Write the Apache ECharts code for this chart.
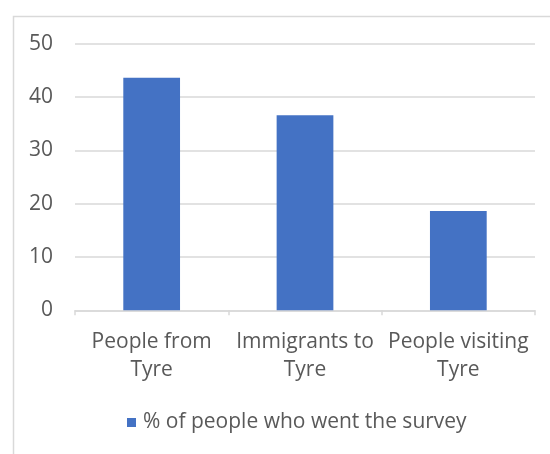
<!DOCTYPE html>
<html>
<head>
<meta charset="utf-8">
<script src="https://cdn.jsdelivr.net/npm/echarts@6/dist/echarts.min.js"></script>
<style>
  html, body { margin: 0; padding: 0; background: #ffffff; }
  #chart { width: 550px; height: 454px; }
</style>
</head>
<body>
<div id="chart"></div>
<script>
// Survey respondents by group
const categories = ['People from Tyre', 'Immigrants to Tyre', 'People visiting Tyre'];
const seriesName = '% of people who went the survey';
const values = [43.6, 36.6, 18.6];
const yTicks = { min: 0, max: 50, interval: 10 };

const FONT = '"Open Sans", sans-serif';
const TEXT = '#595959';
const LINE = '#d9d9d9';

// wrap a category name onto two lines at its last space
function wrap(name) {
  const i = name.lastIndexOf(' ');
  return i > 0 ? name.slice(0, i) + '\n' + name.slice(i + 1) : name;
}

const chart = echarts.init(document.getElementById('chart'), null, { renderer: 'canvas' });
chart.setOption({
  backgroundColor: '#ffffff',
  animation: false,
  graphic: [{
    type: 'rect',
    left: 11, top: 14,
    shape: { width: 600, height: 500 },
    style: { fill: 'none', stroke: LINE, lineWidth: 1.5 },
    silent: true
  }],
  grid: { left: 75, right: 15, top: 43.7, bottom: 143.7, containLabel: false },
  legend: {
    data: [seriesName],
    bottom: 16,
    left: 122,
    icon: 'rect',
    itemWidth: 9, itemHeight: 9,
    itemGap: 10,
    textStyle: { color: TEXT, fontFamily: FONT, fontSize: 21, padding: [0, 0, 0, 2] }
  },
  xAxis: {
    type: 'category',
    data: categories,
    boundaryGap: true,
    axisLine: { lineStyle: { color: LINE, width: 1.5 } },
    axisTick: { show: true, length: 5, lineStyle: { color: LINE, width: 1.5 } },
    axisLabel: {
      interval: 0,
      margin: 18,
      color: TEXT,
      fontFamily: FONT,
      fontSize: 21,
      lineHeight: 28,
      formatter: wrap
    }
  },
  yAxis: {
    type: 'value',
    min: yTicks.min, max: yTicks.max, interval: yTicks.interval,
    axisLine: { show: false },
    axisTick: { show: false },
    splitLine: { lineStyle: { color: LINE, width: 1.5 } },
    axisLabel: { color: TEXT, fontFamily: FONT, fontSize: 21, margin: 22 }
  },
  series: [{
    name: seriesName,
    type: 'bar',
    data: values,
    barCategoryGap: '63%',
    itemStyle: { color: '#4472c4' }
  }]
});
</script>
</body>
</html>
